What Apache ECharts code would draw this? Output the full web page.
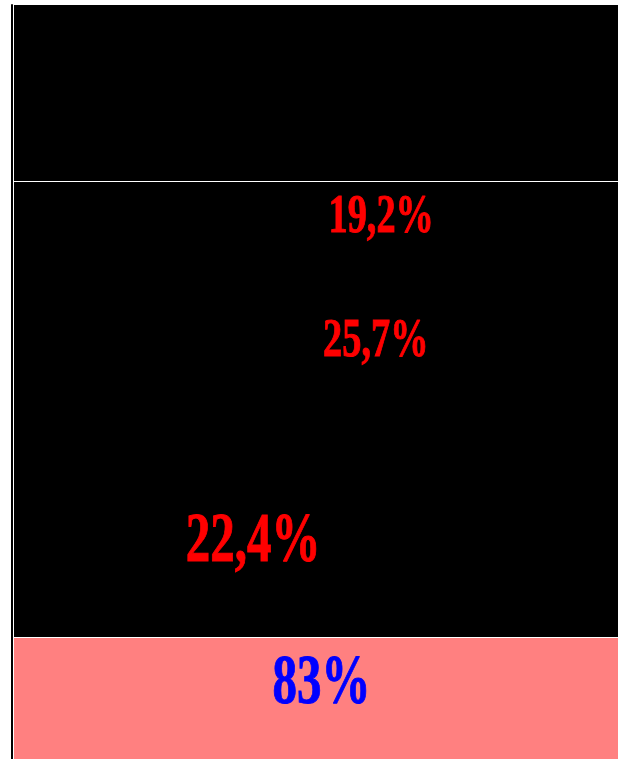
<!DOCTYPE html>
<html>
<head>
<meta charset="utf-8">
<script src="https://cdn.jsdelivr.net/npm/echarts@6/dist/echarts.min.js"></script>
<style>
  html, body { margin: 0; padding: 0; background: #ffffff; }
  #chart { width: 618px; height: 759px; }
</style>
</head>
<body>
<div id="chart"></div>
<script>
// 分段 (纵轴 0-100)
const segStart = [0, 16.2, 76.6];
const segEnd = [16.2, 76.6, 100];

// 标签
const labelTexts = [`19,2%`, `25,7%`, `22,4%`, `83%`];
const labelX = [60.8, 59.9, 39.6, 50.9];
const labelY = [71.8, 55.3, 28.6, 9.8];

// 样式
const segColors = [`#ff8080`, `#000000`, `#000000`];
const labelStyles = [
  { size: 54, color: `#ff0000` },
  { size: 54, color: `#ff0000` },
  { size: 69, color: `#ff0000` },
  { size: 69, color: `#0000ff` }
];

const chart = echarts.init(document.getElementById(`chart`));

let option;
option = {
  animation: false,
  backgroundColor: `#ffffff`,
  grid: { left: 14, right: 0, top: 5, bottom: 0 },
  xAxis: {
    type: `value`,
    min: 0,
    max: 100,
    show: false
  },
  yAxis: {
    type: `value`,
    min: 0,
    max: 100,
    position: `left`,
    offset: 2,
    axisLine: { show: true, onZero: false, lineStyle: { color: `#000000`, width: 2 } },
    axisTick: { show: false },
    axisLabel: { show: false },
    splitLine: { show: false }
  },
  series: [
    {
      type: `custom`,
      silent: true,
      clip: false,
      renderItem: function (params, api) {
        const i = params.dataIndex;
        const p0 = api.coord([0, api.value(0)]);
        const p1 = api.coord([100, api.value(1)]);
        const top = Math.round(p1[1]);
        const bottom = Math.round(p0[1]);
        // 上面有分段时留 1px 白线
        const gap = i < segStart.length - 1 ? 1 : 0;
        return {
          type: `rect`,
          shape: { x: Math.round(p0[0]), y: top + gap, width: Math.round(p1[0] - p0[0]), height: bottom - top - gap },
          style: { fill: segColors[i] }
        };
      },
      data: segStart.map((s, i) => [s, segEnd[i]])
    },
    {
      type: `custom`,
      silent: true,
      clip: false,
      renderItem: function (params, api) {
        const p = api.coord([api.value(0), api.value(1)]);
        const s = labelStyles[params.dataIndex];
        return {
          type: `text`,
          x: p[0],
          y: p[1],
          scaleX: 0.71,
          style: {
            text: labelTexts[params.dataIndex],
            fill: s.color,
            stroke: s.color,
            lineWidth: 1,
            fontSize: s.size,
            fontWeight: `bold`,
            fontFamily: `"Liberation Serif", "Times New Roman", serif`,
            align: `center`,
            verticalAlign: `middle`
          }
        };
      },
      data: labelX.map((x, i) => [x, labelY[i]])
    }
  ]
};
option && chart.setOption(option);
</script>
</body>
</html>
